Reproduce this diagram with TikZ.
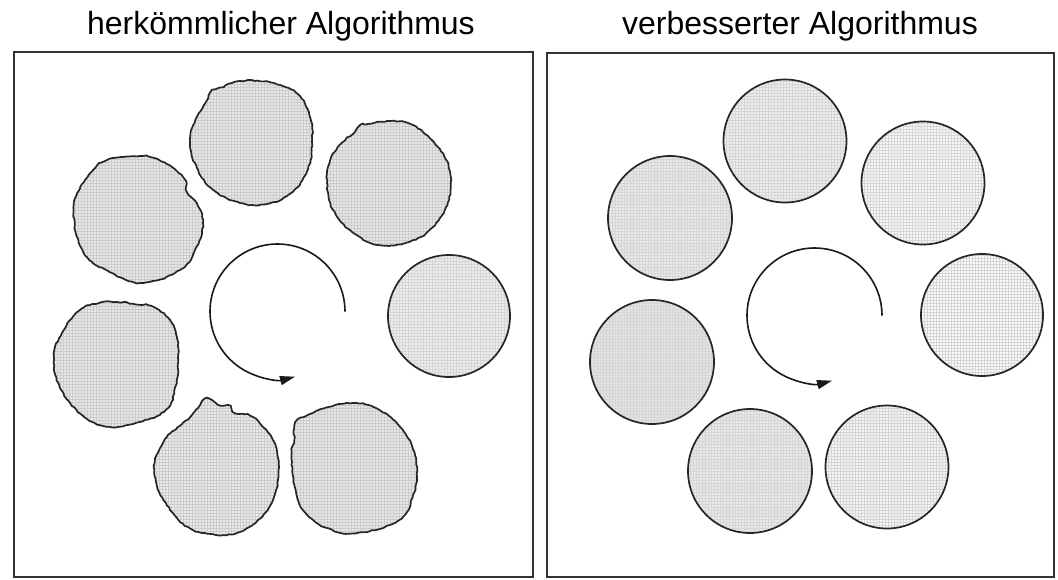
\documentclass[tikz,border=0pt]{standalone}
\usepackage{fontspec}
\setmainfont{Liberation Sans}
\usetikzlibrary{arrows.meta,patterns,decorations.pathmorphing}
\begin{document}
\begin{tikzpicture}[x=1pt,y=1pt,
  frame/.style={draw=black!80, line width=1.4pt},
  title/.style={anchor=base, font=\fontsize{32}{38}\selectfont, inner sep=0pt, text=black},
  blob/.style={draw=black!85, line width=1.7pt,
    preaction={fill=black!#1},
    preaction={pattern=grid, pattern color=black!20},
    decorate, decoration={random steps, segment length=3pt, amplitude=0.6pt}},
  rcirc/.style={circle, draw=black!85, line width=1.7pt,
    preaction={fill=black!#1},
    preaction={pattern=grid, pattern color=black!16}, inner sep=0pt},
  turn/.style={draw=black!90, line width=1.6pt, -{Triangle[length=15pt,width=9pt]}}
]
\pgfmathsetseed{7}
\useasboundingbox (0,0) rectangle (1058,-579);
\fill[white] (0,0) rectangle (1058,-579);

% titles
\node[title] (t1) at (281,-34) {herkömmlicher Algorithmus};
\node[title] (t2) at (800,-34) {verbesserter Algorithmus};

% frames
\draw[frame] (14,-52) rectangle (533,-577);
\draw[frame] (547,-53) rectangle (1054,-577);

% ---------- left panel: irregular blobs ----------
\begin{scope}[shift={(251,-142)}]
\draw[blob=9] plot[smooth cycle, tension=0.7] coordinates {
 (0:61) (22:64) (45:67) (70:63) (100:62) (118:62) (127:64) (140:60) (155:59.5) (178:61)
 (205:60) (232:61) (260:62) (285:64) (310:65) (335:63)};
\end{scope}
\begin{scope}[shift={(390,-183)}]
\draw[blob=9] plot[smooth cycle, tension=0.7] coordinates {
 (9:61) (37:60) (68:62.4) (84:62) (99:62) (110:63) (117:65) (125:62) (140:62.5) (159:64)
 (180:63) (205:63) (234:62) (261:63) (289:62) (314:61.5) (341:61)};
\end{scope}
\begin{scope}[shift={(138,-219)}]
\draw[blob=9] plot[smooth cycle, tension=0.7] coordinates {
 (-3.5:65) (15:61) (27.5:56) (43:61.5) (72:63) (94.5:63) (117.7:66.6) (132.6:66.5)
 (157:66) (172:65) (196:63.6) (217:63.6) (239:60) (272:64) (309.5:66) (335:65)};
\end{scope}
\node[rcirc=7, minimum size=122pt] (ld) at (449,-316) {};
\begin{scope}[shift={(116.5,-364.5)}]
\draw[blob=9] plot[smooth cycle, tension=0.7] coordinates {
 (1:61.5) (30:68) (54:69) (75:63) (90:62.5) (104:64) (124:65.6) (150:63) (173:63)
 (200:61) (233:61) (261:63) (292:62) (318:67) (340:63)};
\end{scope}
\begin{scope}[shift={(217,-467)}]
\draw[blob=8] plot[smooth cycle, tension=0.6] coordinates {
 (0:62) (26:62) (54:61.6) (71.6:57) (78:62.4) (87:62) (98.5:69.5) (108:62) (118:56.8)
 (135:56) (149:58.3) (173.6:62.4) (198.4:63) (226:63.7) (249:67.4) (278:68.7)
 (302:68) (329.5:65)};
\end{scope}
\begin{scope}[shift={(354,-468)}]
\draw[blob=9] plot[smooth cycle, tension=0.7] coordinates {
 (-5:63) (20:62) (46:62) (72:64) (91:65) (112:66) (130:70) (142:74) (155:66) (166:64)
 (195:62) (220:66) (245:66) (273:65) (311:69) (335:65)};
\end{scope}

% left rotation arrow
\coordinate (la) at (345,-311.5);
\draw[turn] (la) arc[start angle=0, end angle=285, radius=67.5];

% ---------- right panel: regular circles ----------
\node[rcirc=7,  minimum size=123pt] (r1) at (785,-141) {};
\node[rcirc=3,  minimum size=123pt] (r2) at (923,-183) {};
\node[rcirc=9,  minimum size=124pt] (r3) at (670,-218) {};
\node[rcirc=2,  minimum size=122pt] (r4) at (982,-315) {};
\node[rcirc=11, minimum size=124pt] (r5) at (652,-362) {};
\node[rcirc=9,  minimum size=124pt] (r6) at (750,-471) {};
\node[rcirc=4,  minimum size=123pt] (r7) at (887,-467) {};

% right rotation arrow
\coordinate (ra) at (882,-315.5);
\draw[turn] (ra) arc[start angle=0, end angle=285, radius=67.5];
\end{tikzpicture}
\end{document}
